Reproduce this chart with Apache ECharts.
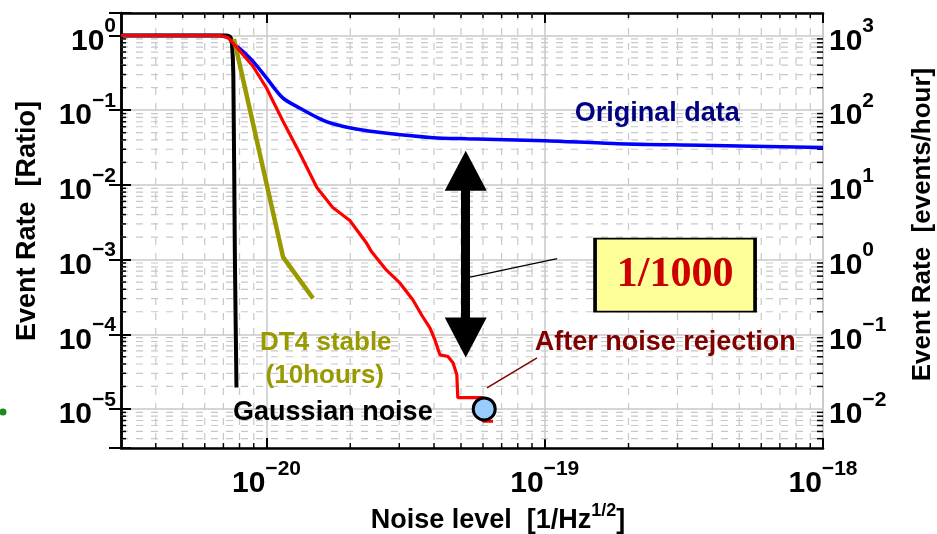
<!DOCTYPE html>
<html><head><meta charset="utf-8">
<script src="https://cdn.jsdelivr.net/npm/echarts@6/dist/echarts.min.js"></script>
<style>html,body{margin:0;padding:0;background:#fff}#c{width:937px;height:534px}</style>
</head><body><div id="c"></div>
<script>
// ---------- data ----------
const xMajorExps = [-20, -19, -18];
const leftMajorExps = [-5, -4, -3, -2, -1, 0];
const rightMajorExps = [-2, -1, 0, 1, 2, 3];

const blueX = [3e-21, 6.8e-21, 7.3e-21, 7.56e-21, 8.2e-21, 8.93e-21, 1e-20, 1.144e-20, 1.32e-20, 1.556e-20, 1.73e-20, 2.1e-20, 2.62e-20, 3.96e-20, 5.25e-20, 1e-19, 1.82e-19, 3.6e-19, 1e-18];
const blueY = [1, 1, 0.93, 0.80, 0.62, 0.454, 0.27, 0.146, 0.106, 0.0766, 0.0657, 0.056, 0.0498, 0.0428, 0.0414, 0.039, 0.0356, 0.034, 0.0317];

const redX = [3e-21, 6.8e-21, 7.3e-21, 7.56e-21, 8.93e-21, 1e-20, 1.144e-20, 1.32e-20, 1.517e-20, 1.73e-20, 1.993e-20, 2.29e-20, 2.39e-20, 2.70e-20, 3.02e-20, 3.36e-20, 3.61e-20, 3.87e-20, 4.03e-20, 4.2e-20, 4.49e-20, 4.68e-20, 4.83e-20, 4.87e-20, 6.0e-20, 6.0e-20, 6.52e-20];
const redY = [1, 1, 0.93, 0.80, 0.39, 0.198, 0.072, 0.0261, 0.0092, 0.00498, 0.00334, 0.00165, 1.26e-3, 7.2e-4, 4.83e-4, 2.87e-4, 1.81e-4, 1.21e-4, 8.4e-5, 5.3e-5, 5.03e-5, 4.14e-5, 2.87e-5, 1.42e-5, 1.42e-5, 6.84e-6, 6.84e-6];

const blackX = [3e-21, 7.2e-21, 7.42e-21, 7.52e-21, 7.6e-21, 7.7e-21, 7.8e-21];
const blackY = [1, 1, 0.95, 0.75, 0.3, 1e-3, 1.94e-5];

const oliveX = [7.64e-21, 1.147e-20, 1.47e-20];
const oliveY = [0.9, 1.08e-3, 3.02e-4];

const markerX = [6.06e-20];
const markerY = [1e-5];

// ---------- setup ----------
const X_MIN = 3e-21, X_MAX = 1e-18, Y_MIN = 3e-6, Y_MAX = 2;
const F = "'Liberation Sans', Arial, Helvetica, sans-serif";
const zip = (a, b) => a.map((v, i) => [v, b[i]]);
const minorMult = [2, 3, 4, 5, 6, 7, 8, 9];
function minorVals(lo, hi) {
  const out = [];
  for (let d = Math.floor(Math.log10(lo)); d <= Math.ceil(Math.log10(hi)); d++) {
    minorMult.forEach(m => { const v = m * Math.pow(10, d); if (v > lo * 1.0001 && v < hi * 0.9999) out.push(v); });
  }
  return out;
}
function expStr(e) { return e < 0 ? '\u2212' + (-e) : String(e); }
function powLabel(list) {
  return function (v) {
    const l = Math.log10(v), e = Math.round(l);
    if (Math.abs(l - e) > 1e-6 || list.indexOf(e) < 0) return '';
    return '{b|10}{s|' + expStr(e) + '}';
  };
}
const richLab = {
  b: { fontSize: 30, fontWeight: 'bold', fontFamily: F, color: '#000', lineHeight: 30 },
  s: { fontSize: 21, fontWeight: 'bold', fontFamily: F, color: '#000', lineHeight: 21, padding: [0, 0, 30, 0] }
};
const axisLineS = { show: true, lineStyle: { color: '#000', width: 2.5 } };
const grayGrid = '#c8c8c8';

const chart = echarts.init(document.getElementById('c'), null, { renderer: 'canvas' });
chart.setOption({
  animation: false,
  backgroundColor: '#fff',
  grid: { left: 121, right: 114, top: 13, bottom: 86, containLabel: false, outerBoundsMode: 'none' },
  xAxis: [
    {
      type: 'log', logBase: 10, min: X_MIN, max: X_MAX, position: 'bottom',
      axisLine: axisLineS,
      axisTick: { show: true, inside: true, length: 10, lineStyle: { color: '#000', width: 2 } },
      splitLine: { show: true, lineStyle: { color: grayGrid, width: 1.5 } },
      axisLabel: { margin: 21, formatter: powLabel(xMajorExps), rich: richLab }
    },
    {
      type: 'log', logBase: 10, min: X_MIN, max: X_MAX, position: 'top',
      axisLine: axisLineS,
      axisTick: { show: true, inside: true, length: 10, lineStyle: { color: '#000', width: 2 } },
      splitLine: { show: false }, axisLabel: { show: false }
    }
  ],
  yAxis: [
    {
      type: 'log', logBase: 10, min: Y_MIN, max: Y_MAX, position: 'left',
      axisLine: axisLineS,
      axisTick: { show: true, inside: true, length: 10, lineStyle: { color: '#000', width: 2 } },
      splitLine: { show: true, lineStyle: { color: grayGrid, width: 1.5 } },
      axisLabel: { margin: 5, padding: [12, 0, 0, 0], formatter: powLabel(leftMajorExps), rich: richLab },
      name: 'Event Rate  [Ratio]', nameLocation: 'middle', nameGap: 80, nameRotate: 90,
      nameTextStyle: { fontSize: 27, fontWeight: 'bold', fontFamily: F, color: '#000', lineHeight: 26, padding: [0, 0, 0, 19] }
    },
    {
      type: 'log', logBase: 10, min: Y_MIN * 1000, max: Y_MAX * 1000, position: 'right',
      axisLine: axisLineS,
      axisTick: { show: true, inside: true, length: 12, lineStyle: { color: '#000', width: 2 } },
      splitLine: { show: false },
      axisLabel: { margin: 6, padding: [12, 0, 0, 0], formatter: powLabel(rightMajorExps), rich: richLab },
      name: 'Event Rate  [events/hour]', nameLocation: 'middle', nameGap: 87, nameRotate: 90,
      nameTextStyle: { fontSize: 26, fontWeight: 'bold', fontFamily: F, color: '#000', lineHeight: 26, padding: [0, 0, 0, 12] }
    }
  ],
  graphic: [
    { type: 'circle', shape: { cx: 3, cy: 412, r: 3.5 }, style: { fill: '#1a8a1a' } },
    { type: 'text', x: 498, y: 521, style: {
        text: '{a|Noise level  [1/Hz}{s|1/2}{a|]}', align: 'center', verticalAlign: 'middle',
        rich: {
          a: { fontSize: 27, fontWeight: 'bold', fontFamily: F, fill: '#000', lineHeight: 27 },
          s: { fontSize: 18, fontWeight: 'bold', fontFamily: F, fill: '#000', lineHeight: 18, padding: [0, 0, 19, 0] }
        } } }
  ],
  series: [
    {
      type: 'custom', name: 'minorGrid', xAxisIndex: 0, yAxisIndex: 0, silent: true, z: 1, clip: false,
      data: [[1e-20, 1e-3]],
      renderItem: function (params, api) {
        const p0 = api.coord([X_MIN, Y_MIN]), p1 = api.coord([X_MAX, Y_MAX]);
        const left = p0[0], bottom = p0[1], right = p1[0], top = p1[1];
        const grid = [], ticks = [];
        const gs = { stroke: grayGrid, lineWidth: 1.2, lineDash: [7, 8] };
        const ts = { stroke: '#000', lineWidth: 1.5 };
        minorVals(X_MIN, X_MAX).forEach(v => {
          const px = api.coord([v, Y_MIN])[0];
          grid.push({ type: 'line', shape: { x1: px, y1: top, x2: px, y2: bottom }, style: gs });
          ticks.push({ type: 'line', shape: { x1: px, y1: bottom, x2: px, y2: bottom - 5 }, style: ts });
          ticks.push({ type: 'line', shape: { x1: px, y1: top, x2: px, y2: top + 5 }, style: ts });
        });
        minorVals(Y_MIN, Y_MAX).forEach(v => {
          const py = api.coord([X_MIN, v])[1];
          grid.push({ type: 'line', shape: { x1: left, y1: py, x2: right, y2: py }, style: gs });
          ticks.push({ type: 'line', shape: { x1: left, y1: py, x2: left + 5, y2: py }, style: ts });
          ticks.push({ type: 'line', shape: { x1: right, y1: py, x2: right - 6, y2: py }, style: ts });
        });
        return { type: 'group', children: grid.concat(ticks) };
      }
    },
    {
      type: 'line', name: 'Original data', data: zip(blueX, blueY), showSymbol: false, symbol: 'none',
      smooth: 0.3, lineStyle: { color: '#0000ff', width: 3.5 }, z: 3,
      markLine: {
        silent: true, symbol: ['none', 'none'], label: { show: false },
        lineStyle: { color: '#000', width: 1.3, type: 'solid' },
        data: [[{ coord: [5.39e-20, 5.81e-4] }, { coord: [1.108e-19, 1.03e-3] }]]
      }
    },
    {
      type: 'line', name: 'Gaussian noise', data: zip(blackX, blackY), showSymbol: false, symbol: 'none',
      smooth: 0.2, lineStyle: { color: '#000', width: 4 }, z: 3
    },
    {
      type: 'line', name: 'DT4 stable', data: zip(oliveX, oliveY), showSymbol: false, symbol: 'none',
      lineStyle: { color: '#999900', width: 4.5 }, z: 3
    },
    {
      type: 'line', name: 'After noise rejection', data: zip(redX, redY), showSymbol: false, symbol: 'none',
      lineStyle: { color: '#ff0000', width: 3.2 }, z: 4,
      markLine: {
        silent: true, symbol: ['triangle', 'triangle'], symbolSize: [42, 40], label: { show: false },
        itemStyle: { color: '#000' },
        lineStyle: { color: '#000', width: 9, type: 'solid' },
        data: [[{ coord: [5.2e-20, 0.0155] }, { coord: [5.2e-20, 9.06e-5] }]]
      }
    },
    {
      type: 'scatter', name: 'marker', data: zip(markerX, markerY), symbol: 'circle', symbolSize: 22, z: 6,
      itemStyle: { color: '#99ccff', borderColor: '#000', borderWidth: 3, opacity: 1 },
      markLine: {
        silent: true, symbol: ['none', 'none'], label: { show: false },
        lineStyle: { color: '#800000', width: 1.5, type: 'solid' },
        data: [[{ coord: [6.2e-20, 1.92e-5] }, { coord: [9.38e-20, 4.83e-5] }]]
      },
      markPoint: {
        silent: true,
        data: [
          { coord: [2.535e-19, 0.0893], symbol: 'rect', symbolSize: 1, itemStyle: { color: 'rgba(0,0,0,0)' },
            label: { show: true, position: 'inside', formatter: 'Original data', color: '#000080', fontSize: 27, fontWeight: 'bold', fontFamily: F } },
          { coord: [2.71e-19, 7.66e-5], symbol: 'rect', symbolSize: 1, itemStyle: { color: 'rgba(0,0,0,0)' },
            label: { show: true, position: 'inside', formatter: 'After noise rejection', color: '#800000', fontSize: 27, fontWeight: 'bold', fontFamily: F } },
          { coord: [1.634e-20, 7.66e-5], symbol: 'rect', symbolSize: 1, itemStyle: { color: 'rgba(0,0,0,0)' },
            label: { show: true, position: 'inside', formatter: 'DT4 stable', color: '#999900', fontSize: 26, fontWeight: 'bold', fontFamily: F } },
          { coord: [1.62e-20, 2.78e-5], symbol: 'rect', symbolSize: 1, itemStyle: { color: 'rgba(0,0,0,0)' },
            label: { show: true, position: 'inside', formatter: '(10hours)', color: '#999900', fontSize: 26, fontWeight: 'bold', fontFamily: F } },
          { coord: [1.732e-20, 8.93e-6], symbol: 'rect', symbolSize: 1, itemStyle: { color: 'rgba(0,0,0,0)' },
            label: { show: true, position: 'inside', formatter: 'Gaussian noise', color: '#000', fontSize: 27, fontWeight: 'bold', fontFamily: F } },
          { coord: [2.94e-19, 6.18e-4], symbol: 'rect', symbolSize: [160, 73],
            itemStyle: { color: '#ffff99', borderColor: '#000', borderWidth: 2.5 },
            label: { show: true, position: 'inside', formatter: '1/1000', color: '#cc0000', fontSize: 42, fontWeight: 'bold', fontFamily: "'Liberation Serif', 'Times New Roman', serif" } }
        ]
      }
    }
  ]
});
</script></body></html>
